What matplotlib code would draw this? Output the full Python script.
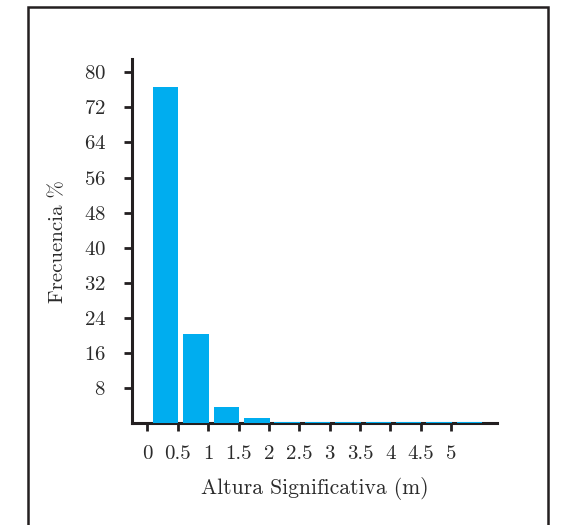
import matplotlib
matplotlib.use("Agg")
import matplotlib.pyplot as plt
from matplotlib.patches import Rectangle

# Data
bin_centers = [0.3, 0.8, 1.3, 1.8, 2.3, 2.8, 3.3, 3.8, 4.3, 4.8, 5.3]
frequencies = [76.6, 20.4, 3.6, 1.1, 0.35, 0.35, 0.35, 0.35, 0.35, 0.35, 0.35]
x_ticks = [0, 0.5, 1, 1.5, 2, 2.5, 3, 3.5, 4, 4.5, 5]
x_tick_labels = ["0", "0.5", "1", "1.5", "2", "2.5", "3", "3.5", "4", "4.5", "5"]
y_ticks = [8, 16, 24, 32, 40, 48, 56, 64, 72, 80]

plt.rcParams['font.family'] = 'serif'
plt.rcParams['font.serif'] = ['cmr10']
plt.rcParams['axes.formatter.use_mathtext'] = True

dark = '#231F20'
txt = '#2b2b2b'
fig = plt.figure(figsize=(5.69, 5.25), dpi=100)
ax = fig.add_axes([132.3/569, 1 - 423.3/525, (496.7 - 132.3)/569, (423.3 - 59)/525])

ax.bar(bin_centers, frequencies, width=0.42, color='#00ADEF', zorder=4)

ax.set_xlim(-0.25, 5.75)
ax.set_ylim(0, 83)
ax.set_xticks(x_ticks)
ax.set_xticklabels(x_tick_labels)
ax.set_yticks(y_ticks)

for s in ['top', 'right']:
    ax.spines[s].set_visible(False)
for s in ['left', 'bottom']:
    ax.spines[s].set_linewidth(2.2)
    ax.spines[s].set_color(dark)
    ax.spines[s].set_zorder(2)

ax.tick_params(axis='both', direction='out', length=6, width=2, color=dark,
               labelsize=15, labelcolor=txt)
ax.tick_params(axis='x', pad=10)
ax.tick_params(axis='y', pad=13)

ax.set_xlabel('Altura Significativa (m)', fontsize=15.5, color=txt, labelpad=10)
ax.set_ylabel('Frecuencia %', fontsize=15, color=txt, labelpad=12)

# Outer frame (bottom edge cut off)
frame = Rectangle((27.5/569, -0.05), (548 - 27.5)/569, 1.05 - 6.5/525,
                  transform=fig.transFigure, fill=False, edgecolor=dark,
                  linewidth=1.8, clip_on=False)
fig.patches.append(frame)

fig.savefig('out.png', dpi=100)
